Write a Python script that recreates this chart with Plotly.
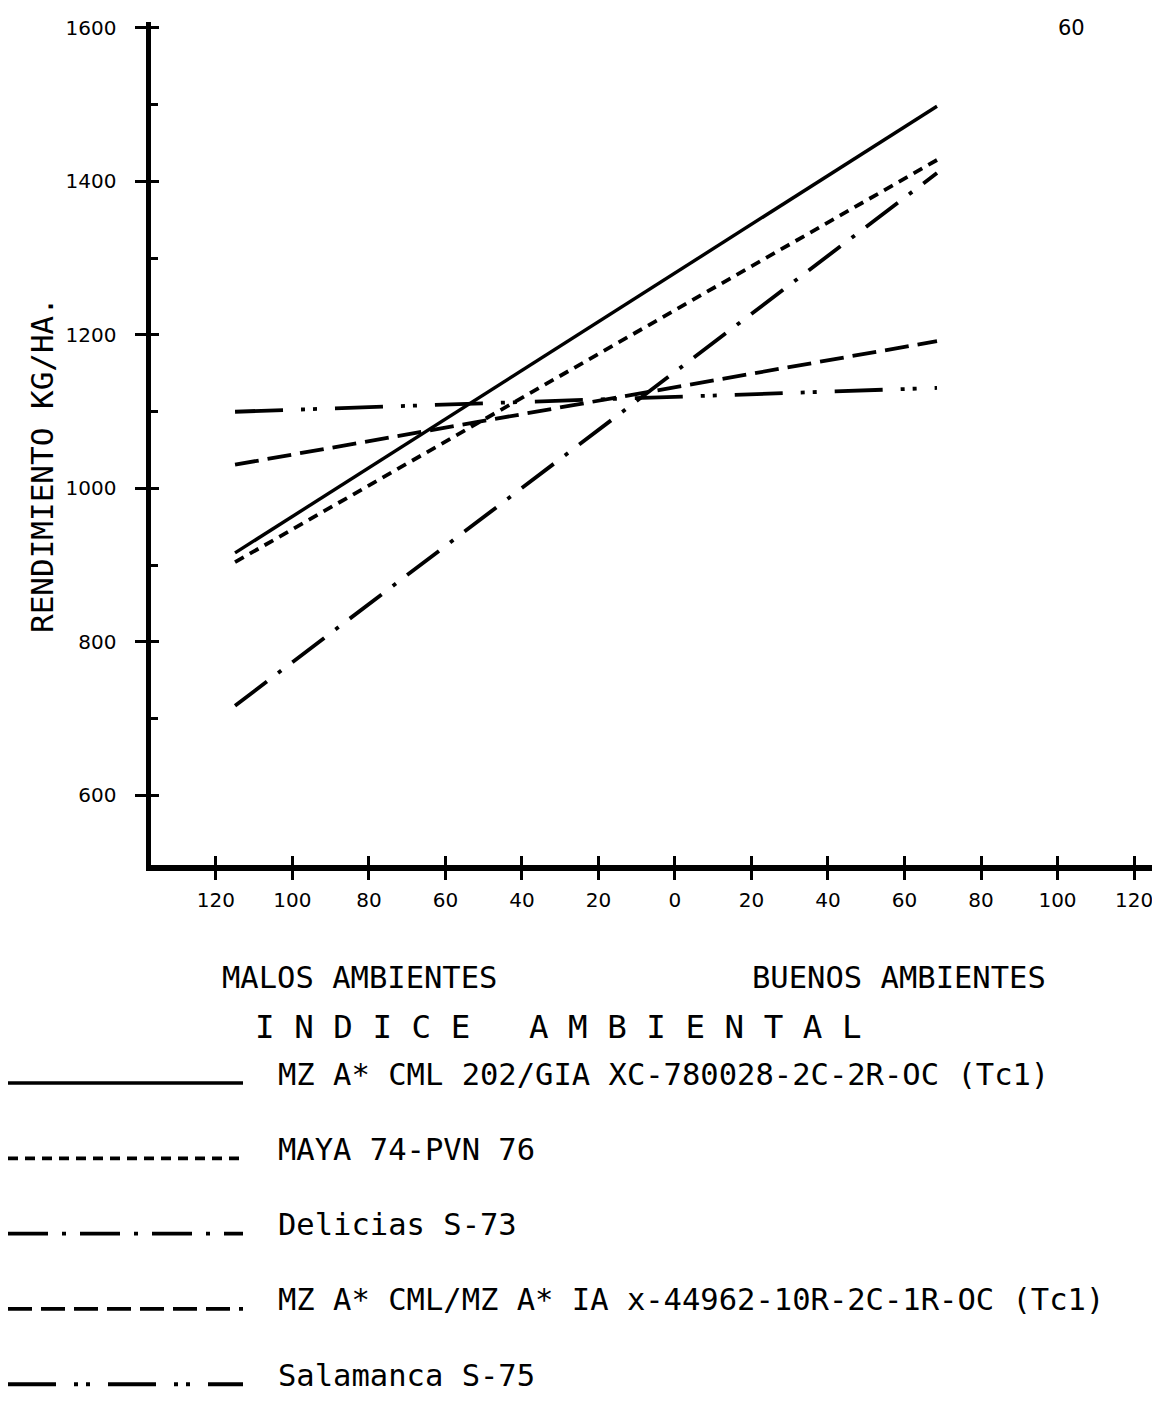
import plotly.graph_objects as go

# ---------------- data ----------------
env_index = [-115, 68.5]          # indice ambiental (malos < 0 < buenos)

mza_cml202 = [916, 1498]
maya74 = [904, 1428]
delicias = [717, 1411]
mza_cml_ia = [1031, 1192]
salamanca = [1100, 1131]

series_names = [
    "MZ A* CML 202/GIA XC-780028-2C-2R-OC (Tc1)",
    "MAYA 74-PVN 76",
    "Delicias S-73",
    "MZ A* CML/MZ A* IA x-44962-10R-2C-1R-OC (Tc1)",
    "Salamanca S-75",
]
series_values = [mza_cml202, maya74, delicias, mza_cml_ia, salamanca]

x_tickvals = [-120, -100, -80, -60, -40, -20, 0, 20, 40, 60, 80, 100, 120]
x_ticktext = ["120", "100", "80", "60", "40", "20", "0", "20", "40", "60", "80", "100", "120"]
y_tickvals = [600, 800, 1000, 1200, 1400, 1600]
y_minorvals = [700, 900, 1100, 1300, 1500]

legend_span = [0, 1]

# ---------------- styles ----------------
OFF = 8                       # default page body margin
W, H = 1160 - OFF, 1406 - OFF
dashes = [
    "solid",
    "10px,7px",
    "40px,14px,4px,14px",
    "24px,9px",
    "48px,18px,4px,8px,4px,18px",
]
widths = [3.4, 3.8, 3.8, 3.8, 3.8]
mono = "DejaVu Sans Mono"


def px(xp):
    return max(0.0, (xp - OFF) / W)


def py(yp):
    return min(1.0, max(0.0, 1 - (yp - OFF) / H))


fig = go.Figure()

for name, vals, d, w in zip(series_names, series_values, dashes, widths):
    fig.add_trace(go.Scatter(
        x=env_index, y=vals, mode="lines", name=name,
        line=dict(color="black", width=w, dash=d),
        xaxis="x", yaxis="y", showlegend=False, hoverinfo="skip",
    ))

# overlay axes (inner half of crossing ticks)
fig.add_trace(go.Scatter(x=[None], y=[None], xaxis="x2", yaxis="y2",
                         showlegend=False, hoverinfo="skip"))

# legend samples
for i, (name, d, w) in enumerate(zip(series_names, dashes, widths)):
    fig.add_trace(go.Scatter(
        x=legend_span, y=[i, i], mode="lines",
        line=dict(color="black", width=w, dash=d),
        xaxis="x3", yaxis="y3", showlegend=False, hoverinfo="skip",
    ))

xr = [-137.1, 124.7]
yr = [509.4, 1607.8]
xdom = [px(150.5), px(1152)]
ydom = [py(865), py(22)]

tickfont = dict(family="DejaVu Sans", size=20, color="black")

annotations = [
    dict(text="60", x=px(1071), y=py(28), xref="paper", yref="paper",
         xanchor="center", yanchor="middle", showarrow=False,
         font=dict(family="DejaVu Sans", size=21, color="black")),
    dict(text="RENDIMIENTO KG/HA.", x=px(42), y=py(465), xref="paper", yref="paper",
         xanchor="center", yanchor="middle", showarrow=False, textangle=-90,
         font=dict(family=mono, size=31, color="black")),
    dict(text="MALOS AMBIENTES", x=px(220), y=py(977), xref="paper", yref="paper",
         xanchor="left", yanchor="middle", showarrow=False,
         font=dict(family=mono, size=30.5, color="black")),
    dict(text="BUENOS AMBIENTES", x=px(750), y=py(977), xref="paper", yref="paper",
         xanchor="left", yanchor="middle", showarrow=False,
         font=dict(family=mono, size=30.5, color="black")),
    dict(text="I N D I C E   A M B I E N T A L", x=px(253), y=py(1027),
         xref="paper", yref="paper", xanchor="left", yanchor="middle",
         showarrow=False, font=dict(family=mono, size=32.5, color="black")),
]
for i, name in enumerate(series_names):
    annotations.append(dict(
        text=name, x=px(276), y=i, xref="paper", yref="y3", yshift=9,
        xanchor="left", yanchor="middle", showarrow=False,
        font=dict(family=mono, size=30.5, color="black"),
    ))

fig.update_layout(
    width=W, height=H, template="none",
    paper_bgcolor="white", plot_bgcolor="rgba(0,0,0,0)",
    margin=dict(l=0, r=0, t=0, b=0),
    showlegend=False,
    xaxis=dict(domain=xdom, range=xr, anchor="y", tickmode="array",
               tickvals=x_tickvals, ticktext=x_ticktext, ticks="outside",
               ticklen=9, tickwidth=3, tickcolor="black", showline=True,
               linewidth=6, linecolor="black", showgrid=False, zeroline=False,
               tickfont=tickfont, ticklabelstandoff=3, fixedrange=True),
    yaxis=dict(domain=ydom, range=yr, anchor="x", tickmode="array",
               tickvals=y_tickvals, ticks="outside", ticklen=11, tickwidth=3,
               tickcolor="black", showline=True, linewidth=5, linecolor="black",
               showgrid=False, zeroline=False, tickfont=tickfont,
               ticklabelstandoff=14, fixedrange=True),
    xaxis2=dict(overlaying="x", anchor="y", range=xr, tickmode="array",
                tickvals=x_tickvals, ticks="inside", ticklen=9, tickwidth=3,
                tickcolor="black", showticklabels=False, showline=False,
                showgrid=False, zeroline=False, fixedrange=True),
    yaxis2=dict(overlaying="y", anchor="x", side="left", range=yr,
                tickmode="array", tickvals=y_tickvals, ticks="inside",
                ticklen=8, tickwidth=3, tickcolor="black",
                minor=dict(tickmode="array", tickvals=y_minorvals, ticks="inside",
                           ticklen=7, tickwidth=2.5, tickcolor="black",
                           showgrid=False),
                showticklabels=False, showline=False, showgrid=False,
                zeroline=False, fixedrange=True),
    xaxis3=dict(domain=[px(8), px(243)], range=[0, 1], anchor="y3",
                visible=False, fixedrange=True),
    yaxis3=dict(domain=[py(1399.3), py(1068)], range=[4.2, -0.2], anchor="x3",
                visible=False, fixedrange=True),
    annotations=annotations,
)

fig.write_html("out.html")
